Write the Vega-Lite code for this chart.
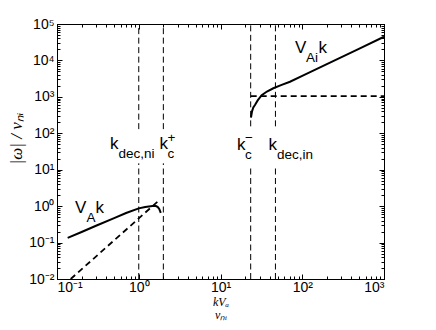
{
  "$schema": "https://vega.github.io/schema/vega-lite/v6.json",
  "width": 327,
  "height": 255,
  "autosize": "none",
  "padding": {"left": 57, "top": 24, "right": 52, "bottom": 51},
  "background": "white",
  "config": {
    "view": {"stroke": "black", "strokeWidth": 1},
    "axis": {
      "domainColor": "black",
      "tickColor": "black",
      "labelColor": "black",
      "labelFont": "Liberation Sans",
      "labelFontSize": 14,
      "labelOverlap": false,
      "labelBound": false,
      "grid": false,
      "titleColor": "black"
    }
  },
  "datasets": {
    "curves": [
      {"s": "VAk", "x": 0.135, "y": 0.135},
      {"s": "VAk", "x": 0.2, "y": 0.195},
      {"s": "VAk", "x": 0.3, "y": 0.29},
      {"s": "VAk", "x": 0.5, "y": 0.47},
      {"s": "VAk", "x": 0.7, "y": 0.65},
      {"s": "VAk", "x": 1.0, "y": 0.87},
      {"s": "VAk", "x": 1.2, "y": 0.95},
      {"s": "VAk", "x": 1.4, "y": 1.0},
      {"s": "VAk", "x": 1.55, "y": 1.02},
      {"s": "VAk", "x": 1.65, "y": 0.99},
      {"s": "VAk", "x": 1.72, "y": 0.93},
      {"s": "VAk", "x": 1.78, "y": 0.84},
      {"s": "VAk", "x": 1.82, "y": 0.74},
      {"s": "VAk", "x": 1.86, "y": 0.65},
      {"s": "VAik", "x": 23.6, "y": 270},
      {"s": "VAik", "x": 24.3, "y": 400},
      {"s": "VAik", "x": 25.2, "y": 510},
      {"s": "VAik", "x": 26.4, "y": 600},
      {"s": "VAik", "x": 28.5, "y": 800},
      {"s": "VAik", "x": 31.9, "y": 1110},
      {"s": "VAik", "x": 37, "y": 1400},
      {"s": "VAik", "x": 44.3, "y": 1720},
      {"s": "VAik", "x": 55, "y": 2100},
      {"s": "VAik", "x": 70.8, "y": 2600},
      {"s": "VAik", "x": 100, "y": 3750},
      {"s": "VAik", "x": 200, "y": 7900},
      {"s": "VAik", "x": 500, "y": 21000},
      {"s": "VAik", "x": 1000, "y": 44700}
    ],
    "dashed": [
      {"s": "quad", "x": 0.147, "y": 0.01},
      {"s": "quad", "x": 1.8, "y": 1.49},
      {"s": "horiz", "x": 23.4, "y": 1050},
      {"s": "horiz", "x": 1000, "y": 1050}
    ],
    "vlines": [
      {"x": 1, "y1": 0.01, "y2": 15},
      {"x": 1, "y1": 130, "y2": 100000},
      {"x": 2, "y1": 0.01, "y2": 15},
      {"x": 2, "y1": 130, "y2": 100000},
      {"x": 23.4, "y1": 0.01, "y2": 13},
      {"x": 23.4, "y1": 155, "y2": 100000},
      {"x": 47, "y1": 0.01, "y2": 13},
      {"x": 47, "y1": 155, "y2": 100000}
    ],
    "mainText": [
      {"t": "V", "x": 0.166, "y": 0.648},
      {"t": "k", "x": 0.2958, "y": 0.648},
      {"t": "V", "x": 81.5, "y": 15700},
      {"t": "k", "x": 158, "y": 15700},
      {"t": "k", "x": 0.445, "y": 37.0},
      {"t": "k", "x": 1.794, "y": 37.0},
      {"t": "k", "x": 15.9, "y": 34.8},
      {"t": "k", "x": 38.6, "y": 34.8}
    ],
    "subText": [
      {"t": "A", "x": 0.2296, "y": 0.378},
      {"t": "Ai", "x": 111, "y": 9230},
      {"t": "dec,ni", "x": 0.565, "y": 20.96},
      {"t": "c", "x": 2.247, "y": 20.96},
      {"t": "+", "x": 2.247, "y": 57.6},
      {"t": "c", "x": 19.94, "y": 20.3},
      {"t": "\u2212", "x": 19.94, "y": 57.6},
      {"t": "dec,in", "x": 49.1, "y": 20.3}
    ]
  },
  "layer": [
    {
      "data": {"name": "curves"},
      "mark": {"type": "line", "color": "black", "strokeWidth": 2},
      "encoding": {
        "detail": {"field": "s"},
        "x": {
          "field": "x", "type": "quantitative",
          "scale": {"type": "log", "domain": [0.1, 1000], "nice": false},
          "axis": {
            "orient": "bottom",
            "values": [0.1,0.2,0.3,0.4,0.5,0.6,0.7,0.8,0.9,1,2,3,4,5,6,7,8,9,10,20,30,40,50,60,70,80,90,100,200,300,400,500,600,700,800,900,1000],
            "labelExpr": "datum.value == 0.1 ? '10\u207b\u00b9' : datum.value == 1 ? '10\u2070' : datum.value == 10 ? '10\u00b9' : datum.value == 100 ? '10\u00b2' : datum.value == 1000 ? '10\u00b3' : ''",
            "tickSize": {"condition": {"test": "abs(log(datum.value)/LN10 - round(log(datum.value)/LN10)) < 0.000001", "value": -5}, "value": -3},
            "labelPadding": 6,
            "title": ["kV\u2090", "\u03bd\u2099\u1d62"],
            "titleFont": "Liberation Serif",
            "titleFontStyle": "italic",
            "titleFontWeight": "normal",
            "titleFontSize": 12,
            "titleLineHeight": 13,
            "titleX": 163.5,
            "titleY": 26,
            "titleBaseline": "alphabetic"
          }
        },
        "y": {
          "field": "y", "type": "quantitative",
          "scale": {"type": "log", "domain": [0.01, 100000], "nice": false},
          "axis": {
            "orient": "left",
            "values": [0.01,0.02,0.03,0.04,0.05,0.06,0.07,0.08,0.09,0.1,0.2,0.3,0.4,0.5,0.6,0.7,0.8,0.9,1,2,3,4,5,6,7,8,9,10,20,30,40,50,60,70,80,90,100,200,300,400,500,600,700,800,900,1000,2000,3000,4000,5000,6000,7000,8000,9000,10000,20000,30000,40000,50000,60000,70000,80000,90000,100000],
            "labelExpr": "datum.value == 0.01 ? '10\u207b\u00b2' : datum.value == 0.1 ? '10\u207b\u00b9' : datum.value == 1 ? '10\u2070' : datum.value == 10 ? '10\u00b9' : datum.value == 100 ? '10\u00b2' : datum.value == 1000 ? '10\u00b3' : datum.value == 10000 ? '10\u2074' : datum.value == 100000 ? '10\u2075' : ''",
            "tickSize": {"condition": {"test": "abs(log(datum.value)/LN10 - round(log(datum.value)/LN10)) < 0.000001", "value": -5}, "value": -3},
            "labelPadding": 8,
            "title": "|\u03c9| / \u03bd\u2099\u1d62",
            "titleFont": "Liberation Serif",
            "titleFontStyle": "italic",
            "titleFontWeight": "normal",
            "titleFontSize": 17,
            "titleX": -36,
            "titleY": 114,
            "titleAngle": -90,
            "titleAlign": "center",
            "titleBaseline": "alphabetic"
          }
        }
      }
    },
    {
      "data": {"name": "dashed"},
      "mark": {"type": "line", "color": "black", "strokeWidth": 1.8, "strokeDash": [6, 4]},
      "encoding": {
        "detail": {"field": "s"},
        "x": {
          "field": "x", "type": "quantitative",
          "scale": {"type": "log", "domain": [0.1, 1000], "nice": false},
          "axis": {
            "orient": "top",
            "values": [0.1,0.2,0.3,0.4,0.5,0.6,0.7,0.8,0.9,1,2,3,4,5,6,7,8,9,10,20,30,40,50,60,70,80,90,100,200,300,400,500,600,700,800,900,1000],
            "labels": false,
            "title": null,
            "tickSize": {"condition": {"test": "abs(log(datum.value)/LN10 - round(log(datum.value)/LN10)) < 0.000001", "value": -5}, "value": -3}
          }
        },
        "y": {
          "field": "y", "type": "quantitative",
          "scale": {"type": "log", "domain": [0.01, 100000], "nice": false},
          "axis": {
            "orient": "right",
            "values": [0.01,0.02,0.03,0.04,0.05,0.06,0.07,0.08,0.09,0.1,0.2,0.3,0.4,0.5,0.6,0.7,0.8,0.9,1,2,3,4,5,6,7,8,9,10,20,30,40,50,60,70,80,90,100,200,300,400,500,600,700,800,900,1000,2000,3000,4000,5000,6000,7000,8000,9000,10000,20000,30000,40000,50000,60000,70000,80000,90000,100000],
            "labels": false,
            "title": null,
            "tickSize": {"condition": {"test": "abs(log(datum.value)/LN10 - round(log(datum.value)/LN10)) < 0.000001", "value": -5}, "value": -3}
          }
        }
      }
    },
    {
      "data": {"name": "vlines"},
      "mark": {"type": "rule", "color": "black", "strokeWidth": 1, "strokeDash": [6, 3.5]},
      "encoding": {
        "x": {"field": "x", "type": "quantitative", "scale": {"type": "log", "domain": [0.1, 1000], "nice": false}, "axis": null},
        "y": {"field": "y1", "type": "quantitative", "scale": {"type": "log", "domain": [0.01, 100000], "nice": false}, "axis": null},
        "y2": {"field": "y2"}
      }
    },
    {
      "data": {"name": "mainText"},
      "mark": {"type": "text", "font": "Liberation Sans", "fontSize": 17, "align": "left", "baseline": "alphabetic", "color": "black"},
      "encoding": {
        "x": {"field": "x", "type": "quantitative", "scale": {"type": "log", "domain": [0.1, 1000], "nice": false}, "axis": null},
        "y": {"field": "y", "type": "quantitative", "scale": {"type": "log", "domain": [0.01, 100000], "nice": false}, "axis": null},
        "text": {"field": "t"}
      }
    },
    {
      "data": {"name": "subText"},
      "mark": {"type": "text", "font": "Liberation Sans", "fontSize": 13.5, "align": "left", "baseline": "alphabetic", "color": "black"},
      "encoding": {
        "x": {"field": "x", "type": "quantitative", "scale": {"type": "log", "domain": [0.1, 1000], "nice": false}, "axis": null},
        "y": {"field": "y", "type": "quantitative", "scale": {"type": "log", "domain": [0.01, 100000], "nice": false}, "axis": null},
        "text": {"field": "t"}
      }
    }
  ],
  "resolve": {"axis": {"x": "independent", "y": "independent"}}
}
